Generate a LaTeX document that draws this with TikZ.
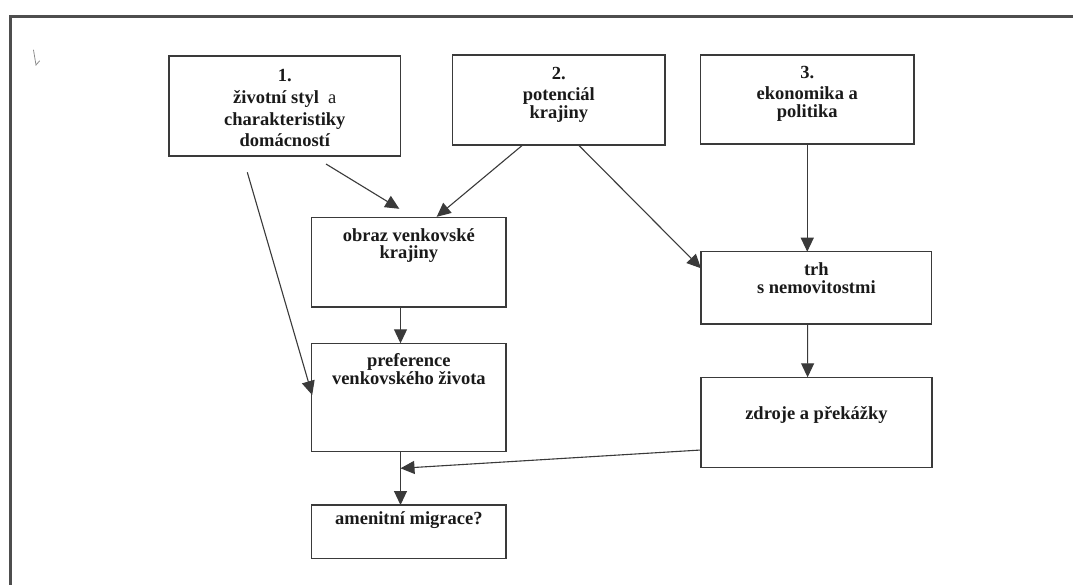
\documentclass[tikz,border=0pt]{standalone}
\usepackage{fontspec}
\setmainfont{Liberation Serif}
\usetikzlibrary{arrows.meta,calc}
\definecolor{ink}{HTML}{3A3A3A}
\definecolor{framec}{HTML}{4E4E4E}
\definecolor{txt}{HTML}{1A1A1A}
\newcommand{\boxtext}[1]{\parbox[t]{8cm}{\lineskiplimit=-\maxdimen\centering #1}}
\begin{document}
\begin{tikzpicture}[x=1pt,y=-1pt,
  box/.style={draw=ink, line width=1.2pt, inner sep=0pt, outer sep=0pt, rectangle},
  lbl/.style={anchor=base, inner sep=0pt, outer sep=0pt, text=txt, font=\bfseries\fontsize{18.5}{17.8}\selectfont},
  conn/.style={draw=ink, line width=1.1pt, -{Triangle[length=14pt,width=13pt]}},
  framestyle/.style={draw=framec, line width=3.6pt, line join=miter},
]
\useasboundingbox (0,0) rectangle (1073,585);
\fill[white] (0,0) rectangle (1073,585);
% outer frame
\draw[framestyle] (10.3,600) -- (10.3,16.5) -- (1090,16.5);
% small pencil mark
\draw[black!45, line width=0.8pt, line cap=round] (33.5,50) .. controls (34.2,58) .. (36,65) -- (39.5,61);

% boxes
\node[box, minimum width=231.6pt, minimum height=100pt] (b1) at (284.8,106) {};
\node[box, minimum width=212.3pt, minimum height=90pt] (b2) at (558.85,100) {};
\node[box, minimum width=213.5pt, minimum height=89pt] (b3) at (807.25,99.5) {};
\node[box, minimum width=194.3pt, minimum height=89.7pt] (obraz) at (408.85,262.15) {};
\node[box, minimum width=230.7pt, minimum height=72.3pt] (trh) at (816.35,287.85) {};
\node[box, minimum width=194.3pt, minimum height=108.4pt] (pref) at (408.85,397.5) {};
\node[box, minimum width=231pt, minimum height=90pt] (zdroje) at (816.5,422.3) {};
\node[box, minimum width=194.3pt, minimum height=53.3pt] (amen) at (408.85,531.65) {};

% texts
\node[lbl, font=\bfseries\fontsize{18.5}{21.7}\selectfont] (t1) at (284.8,81.7)
  {\boxtext{1.\\životní styl\ \ {\mdseries a}\\charakteristiky\\domácností}};
\node[lbl] (t2) at (558.85,80) {\boxtext{2.\\[3pt]potenciál\\krajiny}};
\node[lbl] (t3) at (807.25,79) {\boxtext{3.\\[3pt]ekonomika a\\politika}};
\node[lbl] (tobraz) at (408.85,241.2) {\boxtext{obraz venkovské\\krajiny}};
\node[lbl] (ttrh) at (816.35,276) {\boxtext{trh\\s nemovitostmi}};
\node[lbl] (tpref) at (408.85,366.7) {\boxtext{preference\\venkovského\ života}};
\node[lbl] (tzdroje) at (816.5,419.3) {\boxtext{zdroje a překážky}};
\node[lbl] (tamen) at (408.85,524.3) {\boxtext{amenitní migrace?}};

% connectors
\coordinate (merge) at ($(pref.south west)+(88.8,16.6)$);
\draw[conn] ($(b1.south west)+(157,8)$) -- ($(obraz.north west)+(87.6,-8.5)$);
\draw[conn] ($(b2.south west)+(70,0)$) -- ($(obraz.north west)+(125,-0.5)$);
\draw[conn] ($(b2.south west)+(125.8,0)$) -- ($(trh.north west)+(0,16.6)$);
\draw[conn] (b3.south) -- (b3.south |- trh.north);
\draw[conn] ($(b1.south west)+(78.3,16.3)$) -- ($(pref.north west)+(0.5,51.7)$);
\draw[conn] ($(obraz.south west)+(88.8,0)$) -- ($(pref.north west)+(88.8,0)$);
\draw[conn] ($(pref.south west)+(88.8,0)$) -- ($(amen.north west)+(88.8,0)$);
\draw[conn] ($(zdroje.north west)+(0,72.7)$) -- (merge);
\draw[conn] ($(trh.south west)+(106.6,0)$) -- ($(zdroje.north west)+(106.6,0)$);
\end{tikzpicture}
\end{document}
